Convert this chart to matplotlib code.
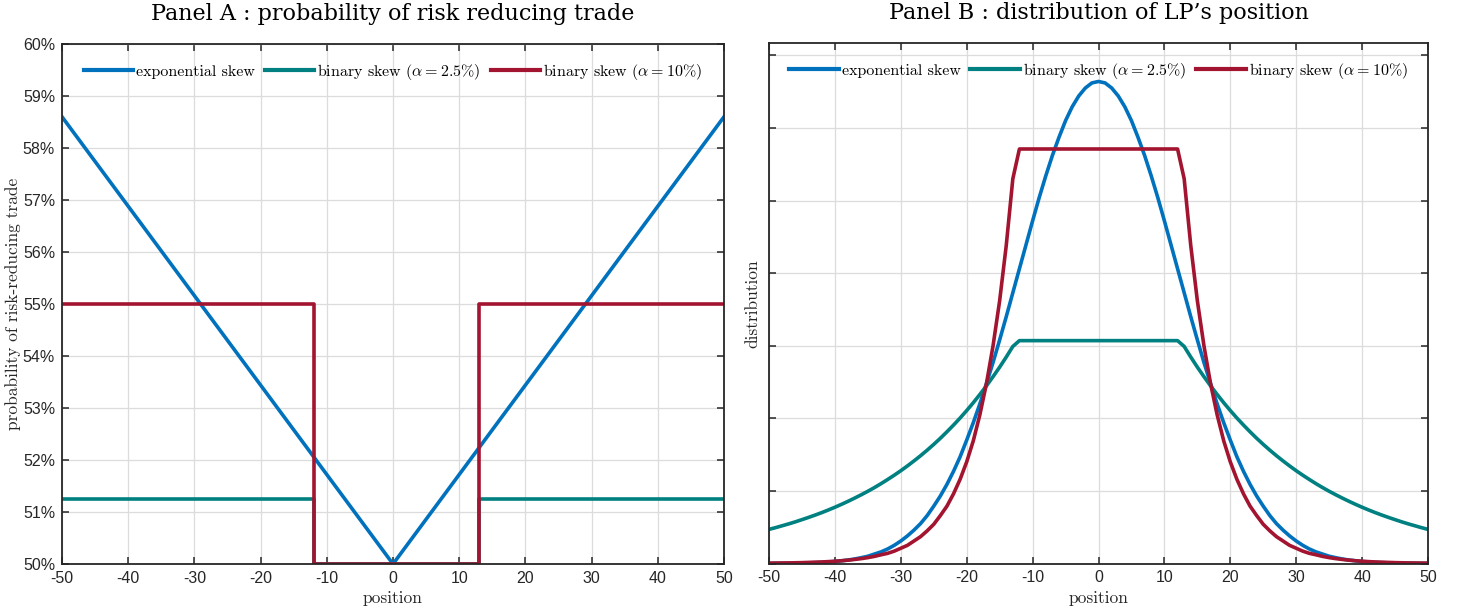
import matplotlib
matplotlib.use("Agg")
import matplotlib.pyplot as plt

plt.rcParams['mathtext.fontset'] = 'cm'
plt.rcParams['axes.unicode_minus'] = False

# ---------------- Data ----------------
# Panel A: probability of a risk-reducing trade (%)
posA_exp = [-50, 0, 50]
probA_exp = [58.6, 50.0, 58.6]
posA_bin25 = [-50, -12, -12, 13, 13, 50]
probA_bin25 = [51.25, 51.25, 50.0, 50.0, 51.25, 51.25]
posA_bin10 = [-50, -12, -12, 13, 13, 50]
probA_bin10 = [55.0, 55.0, 50.0, 50.0, 55.0, 55.0]

# Panel B: distribution of LP's position (arbitrary units), positions -50..50
posB = list(range(-50, 51))
distB_exp = [
    0.001, 0.002, 0.003, 0.004, 0.005, 0.007, 0.009, 0.012, 0.016, 0.021,
    0.028, 0.037, 0.048, 0.062, 0.08, 0.10, 0.13, 0.16, 0.20, 0.25,
    0.31, 0.38, 0.46, 0.55, 0.66, 0.79, 0.93, 1.09, 1.27, 1.47,
    1.70, 1.94, 2.20, 2.48, 2.77, 3.08, 3.40, 3.73, 4.06, 4.39,
    4.72, 5.04, 5.34, 5.62, 5.87, 6.10, 6.29, 6.44, 6.55, 6.62,
    6.64,
    6.62, 6.55, 6.44, 6.29, 6.10, 5.87, 5.62, 5.34, 5.04, 4.72,
    4.39, 4.06, 3.73, 3.40, 3.08, 2.77, 2.48, 2.20, 1.94, 1.70,
    1.47, 1.27, 1.09, 0.93, 0.79, 0.66, 0.55, 0.46, 0.38, 0.31,
    0.25, 0.20, 0.16, 0.13, 0.10, 0.08, 0.062, 0.048, 0.037, 0.028,
    0.021, 0.016, 0.012, 0.009, 0.007, 0.005, 0.004, 0.003, 0.002, 0.001]
distB_bin25 = [
    0.470, 0.494, 0.520, 0.546, 0.574, 0.604, 0.635, 0.667, 0.701, 0.737,
    0.775, 0.815, 0.857, 0.901, 0.947, 0.995, 1.046, 1.100, 1.157, 1.216,
    1.278, 1.344, 1.413, 1.485, 1.561, 1.641, 1.725, 1.814, 1.907, 2.004,
    2.107, 2.215, 2.329, 2.448, 2.574, 2.705, 2.844, 2.990, 3.07, 3.07,
    3.07, 3.07, 3.07, 3.07, 3.07, 3.07, 3.07, 3.07, 3.07, 3.07,
    3.07,
    3.07, 3.07, 3.07, 3.07, 3.07, 3.07, 3.07, 3.07, 3.07, 3.07,
    3.07, 3.07, 2.990, 2.844, 2.705, 2.574, 2.448, 2.329, 2.215, 2.107,
    2.004, 1.907, 1.814, 1.725, 1.641, 1.561, 1.485, 1.413, 1.344, 1.278,
    1.216, 1.157, 1.100, 1.046, 0.995, 0.947, 0.901, 0.857, 0.815, 0.775,
    0.737, 0.701, 0.667, 0.635, 0.604, 0.574, 0.546, 0.520, 0.494, 0.470]
distB_bin10 = [
    0.005, 0.006, 0.007, 0.008, 0.010, 0.012, 0.015, 0.018, 0.021, 0.026,
    0.031, 0.038, 0.046, 0.056, 0.067, 0.081, 0.098, 0.12, 0.14, 0.17,
    0.21, 0.25, 0.31, 0.37, 0.45, 0.54, 0.66, 0.79, 0.96, 1.16,
    1.40, 1.69, 2.05, 2.48, 3.00, 3.62, 4.38, 5.30, 5.71, 5.71,
    5.71, 5.71, 5.71, 5.71, 5.71, 5.71, 5.71, 5.71, 5.71, 5.71,
    5.71,
    5.71, 5.71, 5.71, 5.71, 5.71, 5.71, 5.71, 5.71, 5.71, 5.71,
    5.71, 5.71, 5.30, 4.38, 3.62, 3.00, 2.48, 2.05, 1.69, 1.40,
    1.16, 0.96, 0.79, 0.66, 0.54, 0.45, 0.37, 0.31, 0.25, 0.21,
    0.17, 0.14, 0.12, 0.098, 0.081, 0.067, 0.056, 0.046, 0.038, 0.031,
    0.026, 0.021, 0.018, 0.015, 0.012, 0.010, 0.008, 0.007, 0.006, 0.005]

labels = ['exponential skew', r'binary skew ($\alpha = 2.5\%$)',
          r'binary skew ($\alpha = 10\%$)']
colors = ['#0072BD', '#008080', '#A2142F']
xticks = [-50, -40, -30, -20, -10, 0, 10, 20, 30, 40, 50]
yticksA = [50, 51, 52, 53, 54, 55, 56, 57, 58, 59, 60]
yticksB = [0, 1, 2, 3, 4, 5, 6, 7]

# ---------------- Figure ----------------
W, H = 1461, 612
fig = plt.figure(figsize=(W / 100, H / 100), dpi=100)
axA = fig.add_axes([62 / W, 48 / H, 662 / W, 520 / H])
axB = fig.add_axes([769 / W, 48.5 / H, 659 / W, 520.5 / H])

LW = 2.6


def style(ax):
    ax.grid(True, color='#dcdcdc', linewidth=0.9)
    ax.set_axisbelow(True)
    for s in ax.spines.values():
        s.set_color('#262626')
        s.set_linewidth(1.3)
    ax.tick_params(direction='in', top=True, right=True, length=5,
                   width=1.1, color='#262626', labelsize=11.5,
                   labelcolor='#262626', pad=5)
    for lab in ax.get_xticklabels() + ax.get_yticklabels():
        lab.set_fontfamily('Liberation Sans')
    ax.set_xlabel('position', fontfamily='cmr10', fontsize=12.5, labelpad=3.5,
                  color='#262626')


# Panel A
axA.plot(posA_exp, probA_exp, color=colors[0], lw=LW, label=labels[0])
axA.plot(posA_bin25, probA_bin25, color=colors[1], lw=LW, label=labels[1])
axA.plot(posA_bin10, probA_bin10, color=colors[2], lw=LW, label=labels[2])
axA.set_xlim(-50, 50)
axA.set_ylim(50, 60)
axA.set_xticks(xticks)
axA.set_xticklabels([str(v) for v in xticks])
axA.set_yticks(yticksA)
axA.set_yticklabels([f'{v}%' for v in yticksA])
style(axA)
axA.set_ylabel('probability of risk-reducing trade', fontfamily='cmr10',
               fontsize=12.5, labelpad=1.5, color='#262626')
axA.set_title('Panel A : probability of risk reducing trade',
              fontfamily='DejaVu Serif', fontsize=16, pad=17)

# Panel B
axB.plot(posB, distB_exp, color=colors[0], lw=LW, label=labels[0])
axB.plot(posB, distB_bin25, color=colors[1], lw=LW, label=labels[1])
axB.plot(posB, distB_bin10, color=colors[2], lw=LW, label=labels[2])
axB.set_xlim(-50, 50)
axB.set_ylim(0, 7.17)
axB.set_xticks(xticks)
axB.set_xticklabels([str(v) for v in xticks])
axB.set_yticks(yticksB)
axB.set_yticklabels([])
style(axB)
axB.set_ylabel('distribution', fontfamily='cmr10', fontsize=12.5, labelpad=1.5,
               color='#262626')
axB.set_title("Panel B : distribution of LP’s position",
              fontfamily='DejaVu Serif', fontsize=16, pad=17)

for ax in (axA, axB):
    leg = ax.legend(loc='center', bbox_to_anchor=(0.5, 1 - 28 / 520), ncol=3,
                    frameon=False, handlelength=3.1, handletextpad=0.2,
                    columnspacing=0.6, prop={'family': 'cmr10', 'size': 11.5})
    for line in leg.get_lines():
        line.set_linewidth(3)

fig.savefig('out.png', dpi=100)
